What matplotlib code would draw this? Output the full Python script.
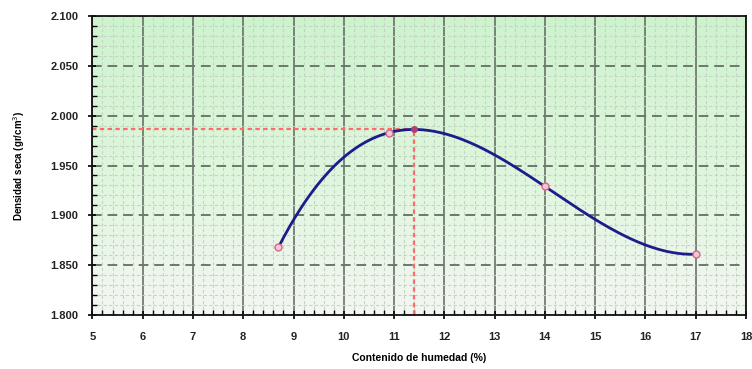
import numpy as np
import matplotlib.pyplot as plt
from matplotlib.ticker import MultipleLocator, FormatStrFormatter
from matplotlib.colors import LinearSegmentedColormap

# --- data ---
humedad = [8.7, 10.9, 14.0, 17.0]          # %
densidad = [1.868, 1.983, 1.929, 1.861]    # gr/cm3
hum_optima = 11.4
dens_maxima = 1.987

X_LIM = (5, 18)
Y_LIM = (1.800, 2.100)

plt.rcParams['font.family'] = ['Liberation Sans', 'DejaVu Sans']

fig = plt.figure(figsize=(7.52, 3.69), dpi=100)
ax = fig.add_axes([0.1229, 0.1463, 0.8691, 0.8103])

# green-to-white background
cmap = LinearSegmentedColormap.from_list("bg", ["#cdf3cd", "#def6dc", "#f4f6f2"])
grad = np.linspace(0, 1, 256).reshape(-1, 1)
ax.imshow(grad, cmap=cmap, aspect="auto", extent=[*X_LIM, *Y_LIM],
          origin="upper", zorder=0)

ax.set_xlim(*X_LIM)
ax.set_ylim(*Y_LIM)

ax.xaxis.set_major_locator(MultipleLocator(1))
ax.xaxis.set_minor_locator(MultipleLocator(0.2))
ax.yaxis.set_major_locator(MultipleLocator(0.05))
ax.yaxis.set_minor_locator(MultipleLocator(0.01))
ax.yaxis.set_major_formatter(FormatStrFormatter("%.3f"))

# grid
ax.grid(which="minor", axis="both", color="#c3d6c3", linestyle=(0, (3, 2)),
        linewidth=0.8, zorder=1)
ax.grid(which="major", axis="x", color="#5d665d", linestyle="-",
        linewidth=1.1, zorder=2)
ax.grid(which="major", axis="y", color="#6e776e", linestyle=(0, (5, 3)),
        linewidth=1.4, zorder=2)
ax.set_axisbelow(False)

# fitted compaction curve
coef = np.polyfit(humedad, densidad, 3)
xs = np.linspace(min(humedad), max(humedad), 300)
ax.plot(xs, np.polyval(coef, xs), color="#1c1c8a", linewidth=2.0, zorder=4)

# optimum lines
ax.plot([X_LIM[0], hum_optima], [dens_maxima, dens_maxima], color="#ff6b6b",
        linestyle=(0, (2, 1.5)), linewidth=1.6, zorder=3)
ax.plot([hum_optima, hum_optima], [Y_LIM[0], dens_maxima], color="#ff6b6b",
        linestyle=(0, (2, 1.5)), linewidth=1.6, zorder=3)

# measured points
ax.plot(humedad, densidad, linestyle="none", marker="o", markersize=5,
        markerfacecolor="#f2c6d6", markeredgecolor="#d46a8a",
        markeredgewidth=1.0, zorder=5)
ax.plot([hum_optima], [dens_maxima], linestyle="none", marker="o",
        markersize=4, markerfacecolor="#b04070", markeredgecolor="#b04070",
        zorder=5)

for s in ax.spines.values():
    s.set_color("#111111")
    s.set_linewidth(1.3)
    s.set_zorder(6)

ax.tick_params(which="major", direction="inout", length=6, width=1.2,
               labelsize=8)
ax.tick_params(axis="x", which="major", pad=9)
ax.tick_params(axis="y", which="major", pad=7)
ax.tick_params(which="minor", direction="in", length=3.5, width=1.0)
for lab in ax.get_xticklabels() + ax.get_yticklabels():
    lab.set_fontweight("bold")
    lab.set_color("#222222")

ax.set_xlabel("Contenido de humedad (%)", fontsize=7.5, fontweight="bold",
              labelpad=8)
ax.set_ylabel("Densidad seca (gr/cm$^3$)", fontsize=7, fontweight="bold",
              labelpad=17)

fig.savefig("out.png", dpi=100)
